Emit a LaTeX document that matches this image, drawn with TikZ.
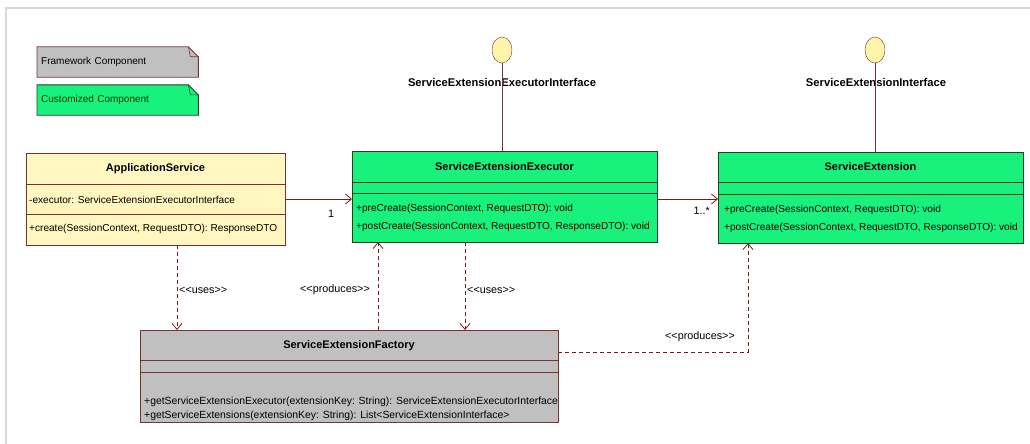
\documentclass[tikz,border=0pt]{standalone}
\usepackage{fontspec}
\setmainfont{Liberation Sans}
\usetikzlibrary{arrows.meta,positioning,shapes,backgrounds}

\definecolor{classyellow}{RGB}{255,246,192}
\definecolor{classgreen}{RGB}{24,242,124}
\definecolor{classgray}{RGB}{192,192,192}
\definecolor{linkred}{RGB}{128,24,24}
\definecolor{edgebrown}{RGB}{120,50,50}
\definecolor{edgedark}{RGB}{40,60,40}
\definecolor{framegray}{RGB}{216,216,216}
\definecolor{lollifill}{RGB}{255,245,170}

\tikzset{
  classbox/.style={draw, rectangle, inner sep=0pt, outer sep=0pt, line width=0.9pt},
  classtitle/.style={font=\bfseries\fontsize{11}{13}\selectfont, inner sep=0pt},
  member/.style={font=\fontsize{10.1}{12}\selectfont, anchor=west, inner sep=0pt},
  widemember/.style={member, font=\fontsize{10.4}{12}\selectfont},
  edgelabel/.style={font=\fontsize{10.8}{12}\selectfont, inner sep=0pt},
  iname/.style={font=\bfseries\fontsize{11.2}{13}\selectfont, inner sep=0pt},
  lolli/.style={draw=edgebrown, fill=lollifill, ellipse, minimum width=20pt, minimum height=26pt, inner sep=0pt},
  legtext/.style={anchor=west, font=\fontsize{10}{12}\selectfont, inner xsep=4pt, text width=153pt, minimum height=30pt},
  assoc/.style={->, draw=linkred, line width=0.8pt},
  dep/.style={->, draw=linkred, line width=0.8pt, dash pattern=on 4pt off 3pt}
}

\begin{document}
\begin{tikzpicture}[x=1pt, y=-1pt, >={Straight Barb[length=6pt,width=10pt]}]
\useasboundingbox (0,0) rectangle (1030,444);

% legend
\node[legtext] (fwnote) at (37,62) {Framework Component};
\node[legtext, text=black!80!green] (cunote) at (37,100) {Customized Component};
\begin{pgfonlayer}{background}
  \draw[framegray, line width=2pt] (6,444) -- (6,8) -- (1030,8);
  \draw[fill=classgray, draw=edgebrown, line width=0.9pt] (fwnote.south west) -- (fwnote.north west) -- ([xshift=-10pt]fwnote.north east) -- ([yshift=-10pt]fwnote.north east) -- (fwnote.south east) -- cycle;
  \draw[draw=edgebrown, line width=0.6pt] ([xshift=-10pt]fwnote.north east) -- ([xshift=-8pt,yshift=-10pt]fwnote.north east) -- ([yshift=-10pt]fwnote.north east);
  \draw[fill=classgreen, draw=edgedark, line width=0.9pt] (cunote.south west) -- (cunote.north west) -- ([xshift=-10pt]cunote.north east) -- ([yshift=-10pt]cunote.north east) -- (cunote.south east) -- cycle;
  \draw[draw=edgedark, line width=0.6pt] ([xshift=-10pt]cunote.north east) -- ([xshift=-8pt,yshift=-10pt]cunote.north east) -- ([yshift=-10pt]cunote.north east);
\end{pgfonlayer}

% ApplicationService
\node[classbox, fill=classyellow, draw=edgebrown, minimum width=259pt, minimum height=92pt] (app) at (155.5,199) {};
\node[classtitle] (apptitle) at ([yshift=-15.5pt]app.north) {ApplicationService};
\draw[edgebrown, line width=0.9pt] ([yshift=-31pt]app.north west) -- ([yshift=-31pt]app.north east);
\draw[edgebrown, line width=0.9pt] ([yshift=-61pt]app.north west) -- ([yshift=-61pt]app.north east);
\node[member] (appattr) at ([xshift=3pt,yshift=-47pt]app.north west) {-executor: ServiceExtensionExecutorInterface};
\node[member] (appop) at ([xshift=3pt,yshift=-76pt]app.north west) {+create(SessionContext, RequestDTO): ResponseDTO};

% ServiceExtensionExecutor
\node[classbox, fill=classgreen, draw=edgedark, minimum width=305pt, minimum height=91pt] (exe) at (504.5,196.5) {};
\node[classtitle] (exetitle) at ([yshift=-16pt]exe.north) {ServiceExtensionExecutor};
\draw[edgedark, line width=0.9pt] ([yshift=-31pt]exe.north west) -- ([yshift=-31pt]exe.north east);
\draw[edgedark, line width=0.9pt] ([yshift=-42pt]exe.north west) -- ([yshift=-42pt]exe.north east);
\node[member] (exepre) at ([xshift=4pt,yshift=-58pt]exe.north west) {+preCreate(SessionContext, RequestDTO): void};
\node[member] (exepost) at ([xshift=4pt,yshift=-76pt]exe.north west) {+postCreate(SessionContext, RequestDTO, ResponseDTO): void};

% ServiceExtension
\node[classbox, fill=classgreen, draw=edgedark, minimum width=305pt, minimum height=91pt] (ext) at (870.5,197.5) {};
\node[classtitle] (exttitle) at ([yshift=-15pt]ext.north) {ServiceExtension};
\draw[edgedark, line width=0.9pt] ([yshift=-30pt]ext.north west) -- ([yshift=-30pt]ext.north east);
\draw[edgedark, line width=0.9pt] ([yshift=-42pt]ext.north west) -- ([yshift=-42pt]ext.north east);
\node[member] (extpre) at ([xshift=6pt,yshift=-58pt]ext.north west) {+preCreate(SessionContext, RequestDTO): void};
\node[member] (extpost) at ([xshift=6pt,yshift=-76pt]ext.north west) {+postCreate(SessionContext, RequestDTO, ResponseDTO): void};

% ServiceExtensionFactory
\node[classbox, fill=classgray, draw=edgebrown, minimum width=418pt, minimum height=92pt] (fac) at (349,376) {};
\node[classtitle] (factitle) at ([yshift=-16pt]fac.north) {ServiceExtensionFactory};
\draw[edgebrown, line width=0.9pt] ([yshift=-30pt]fac.north west) -- ([yshift=-30pt]fac.north east);
\draw[edgebrown, line width=0.9pt] ([yshift=-42pt]fac.north west) -- ([yshift=-42pt]fac.north east);
\node[widemember] (facexe) at ([xshift=4pt,yshift=-72pt]fac.north west) {+getServiceExtensionExecutor(extensionKey: String): ServiceExtensionExecutorInterface};
\node[widemember] (facext) at ([xshift=4pt,yshift=-86pt]fac.north west) {+getServiceExtensions(extensionKey: String): List<ServiceExtensionInterface>};

% interfaces
\node[lolli] (iexe) at (502,50) {};
\node[iname] (iexename) at (502,82) {ServiceExtensionExecutorInterface};
\draw[edgebrown, line width=0.8pt] (iexe.south) -- (iexe.south |- exe.north);
\node[lolli] (iext) at (875,50) {};
\node[iname] (iextname) at (876,82) {ServiceExtensionInterface};
\draw[edgebrown, line width=0.8pt] (iext.south) -- (iext.south |- ext.north);

% associations
\draw[assoc] (app.east) -- (app.east -| exe.west);
\node[edgelabel] (mult1) at (331,214) {1};
\draw[assoc] ([yshift=-2.5pt]exe.east) -- ([yshift=-2.5pt]exe.east -| ext.west);
\node[edgelabel, anchor=east] (multn) at (710,211) {1..*};

% dependencies
\draw[dep] ([xshift=21.5pt]app.south) -- ([xshift=21.5pt]app.south |- fac.north);
\node[edgelabel, anchor=west] (usesa) at (179,290) {<{}<uses>{}>};
\draw[dep] ([xshift=29pt]fac.north) -- ([xshift=29pt]fac.north |- exe.south);
\node[edgelabel] (prodexe) at (335,290) {<{}<produces>{}>};
\draw[dep] ([xshift=-39.5pt]exe.south) -- ([xshift=-39.5pt]exe.south |- fac.north);
\node[edgelabel, anchor=west] (usesb) at (467,290) {<{}<uses>{}>};
\draw[dep] ([yshift=24pt]fac.east) -| ([xshift=-122.5pt]ext.south);
\node[edgelabel] (prodext) at (700,337) {<{}<produces>{}>};
\end{tikzpicture}
\end{document}
